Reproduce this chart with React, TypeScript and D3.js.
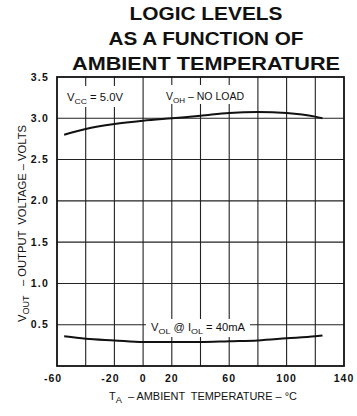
import React from "react";
import * as d3 from "d3";

const temps = [-55, -40, -20, 0, 20, 40, 60, 80, 100, 120, 125];
const vohValues = [2.8, 2.87, 2.93, 2.97, 3.0, 3.03, 3.065, 3.077, 3.065, 3.02, 3.0];
const volValues = [0.36, 0.33, 0.31, 0.29, 0.29, 0.29, 0.3, 0.31, 0.335, 0.36, 0.37];
const xTickLabels = [-60, -20, 0, 20, 60, 100, 140];
const yTickLabels = [0.5, 1.0, 1.5, 2.0, 2.5, 3.0, 3.5];
const xGrid = [-40, -20, 0, 20, 40, 60, 80, 100, 120];
const yGrid = [0.5, 1.0, 1.5, 2.0, 2.5, 3.0];
const titleLines = ["LOGIC LEVELS", "AS A FUNCTION OF", "AMBIENT TEMPERATURE"];

const W = 357;
const H = 416;
const FONT = "'Liberation Sans', Arial, Helvetica, sans-serif";

export default function App() {
  const x = d3.scaleLinear().domain([-60, 140]).range([57, 344]);
  const y = d3.scaleLinear().domain([0, 3.5]).range([366, 77]);

  const line = d3
    .line<[number, number]>()
    .x((d) => x(d[0]))
    .y((d) => y(d[1]))
    .curve(d3.curveMonotoneX);

  const vohPath = line(temps.map((t, i) => [t, vohValues[i]]) as [number, number][]) || "";
  const volPath = line(temps.map((t, i) => [t, volValues[i]]) as [number, number][]) || "";

  const titleWidths = [153, 195, 268];
  const titleBase = [20, 45, 70];

  return (
    <svg
      width={W}
      height={H}
      viewBox={`0 0 ${W} ${H}`}
      style={{ position: "absolute", left: 0, top: 0, background: "#fff" }}
      fontFamily={FONT}
    >
      <rect x={0} y={0} width={W} height={H} fill="#fff" />
      {titleLines.map((t, i) => (
        <text
          key={t}
          x={206 - titleWidths[i] / 2}
          y={titleBase[i]}
          fontSize={18}
          fontWeight="bold"
          textLength={titleWidths[i]}
          lengthAdjust="spacingAndGlyphs"
          fill="#111"
        >
          {t}
        </text>
      ))}

      {/* grid */}
      {xGrid.map((v) => (
        <line key={"gx" + v} x1={x(v)} x2={x(v)} y1={y(3.5)} y2={y(0)} stroke="#222" strokeWidth={1.1} />
      ))}
      {yGrid.map((v) => (
        <line key={"gy" + v} x1={x(-60)} x2={x(140)} y1={y(v)} y2={y(v)} stroke="#222" strokeWidth={1.1} />
      ))}

      {/* label boxes */}
      <rect x={62} y={86} width={66} height={21} fill="#fff" />
      <rect x={160} y={85} width={88} height={19} fill="#fff" />
      <rect x={146} y={319} width={104} height={18} fill="#fff" />

      {/* frame */}
      <rect
        x={x(-60)}
        y={y(3.5)}
        width={x(140) - x(-60)}
        height={y(0) - y(3.5)}
        fill="none"
        stroke="#111"
        strokeWidth={1.8}
      />

      {/* curves */}
      <path d={vohPath} fill="none" stroke="#111" strokeWidth={2} />
      <path d={volPath} fill="none" stroke="#111" strokeWidth={2} />

      {/* labels */}
      <text x={67} y={101} fontSize={10.5} fill="#111" textLength={56} lengthAdjust="spacingAndGlyphs">
        V<tspan fontSize={8} dy={3}>CC</tspan>
        <tspan dy={-3}> = 5.0V</tspan>
      </text>
      <text x={166} y={100} fontSize={10.5} fill="#111" textLength={78} lengthAdjust="spacingAndGlyphs">
        V<tspan fontSize={8} dy={3}>OH</tspan>
        <tspan dy={-3}> – NO LOAD</tspan>
      </text>
      <text x={151} y={331} fontSize={10} fill="#111" textLength={94} lengthAdjust="spacingAndGlyphs">
        V<tspan fontSize={8} dy={3}>OL</tspan>
        <tspan dy={-3}> @ I</tspan>
        <tspan fontSize={8} dy={3}>OL</tspan>
        <tspan dy={-3}> = 40mA</tspan>
      </text>

      {/* y tick labels */}
      {yTickLabels.map((v) => (
        <text
          key={"yl" + v}
          x={49}
          y={y(v) + 3.5}
          fontSize={10.5}
          fontWeight="bold"
          textAnchor="end"
          letterSpacing={1.2}
          fill="#111"
        >
          {v.toFixed(1)}
        </text>
      ))}

      {/* x tick labels */}
      {xTickLabels.map((v) => (
        <text
          key={"xl" + v}
          x={x(v) + (v < 0 ? -4 : 0)}
          y={382}
          fontSize={10.5}
          fontWeight="bold"
          textAnchor="middle"
          letterSpacing={1}
          fill="#111"
        >
          {v < 0 ? "-" + Math.abs(v) : String(v)}
        </text>
      ))}

      {/* x axis title */}
      <text x={109} y={400} fontSize={10} fill="#111" textLength={188} lengthAdjust="spacingAndGlyphs" xmlSpace="preserve">
        T<tspan fontSize={8.5} dy={3}>A</tspan>
        <tspan dy={-3}>{"  – AMBIENT  TEMPERATURE – °C"}</tspan>
      </text>

      {/* y axis title */}
      <text
        transform="translate(26,322) rotate(-90)"
        fontSize={10.5}
        fill="#111"
        textLength={197}
        lengthAdjust="spacingAndGlyphs"
        xmlSpace="preserve"
      >
        V<tspan fontSize={8.5} dy={3}>OUT</tspan>
        <tspan dy={-3}>{"   – OUTPUT  VOLTAGE – VOLTS"}</tspan>
      </text>
    </svg>
  );
}
